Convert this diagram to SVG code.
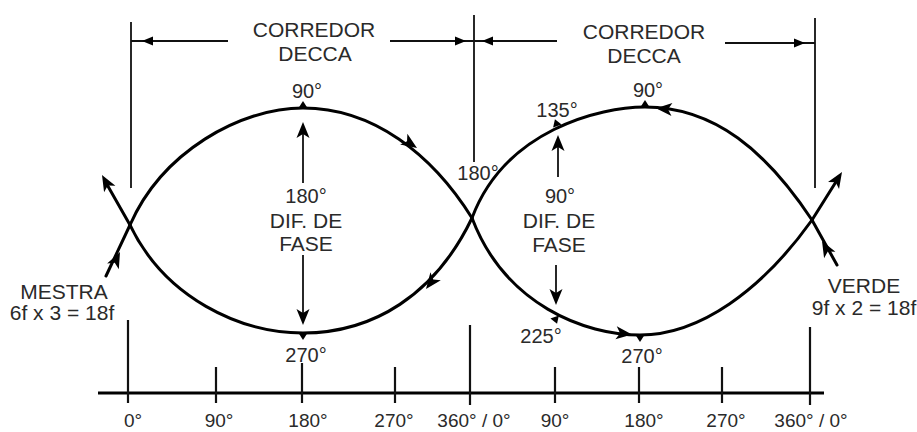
<svg xmlns="http://www.w3.org/2000/svg" xmlns:xlink="http://www.w3.org/1999/xlink" width="917" height="432" viewBox="0 0 917 432">
<style>
.curve{fill:none;stroke:#000;stroke-width:3;stroke-linecap:round}
.dim{fill:none;stroke:#111;stroke-width:1.8}
.axis{fill:none;stroke:#000;stroke-width:3.2}
.tick{fill:none;stroke:#111;stroke-width:2.2}
.arr{fill:none;stroke:#111;stroke-width:1.8}
text{font-family:"Liberation Sans",Arial,sans-serif;fill:#2a2a2a;text-anchor:middle}
.w{font-size:21px}
.n{font-size:20px}
.a{font-size:19px}
.head{fill:#000}
</style>
<defs>
<path id="ah" d="M0,0 L-16,-6.5 L-12,0 L-16,6.5 Z"/>
<path id="ahs" d="M0,0 L-11,-4.5 L-11,4.5 Z"/>
<path id="mk" d="M0,-6 L4.5,1 L-4.5,1 Z"/>
</defs>
<rect width="917" height="432" fill="#fff"/>

<g id="connectors">
<!-- left lobe -->
<path class="curve" d="M130,225 C162,152 240,108 303,108 C373,108 432,154 472,218"/>
<path class="curve" d="M130,225 C165,298 240,333 303,333 C373,333 435,295 472,218"/>
<!-- right lobe -->
<path class="curve" d="M472,218 C505,130 600,107 645,107 C715,107 767,152 812,220"/>
<path class="curve" d="M472,218 C505,305 585,335 640,335 C700,335 762,290 812,220"/>
<!-- external continuations -->
<path class="curve" d="M130,225 L105,181"/>
<path class="curve" d="M130,225 L106,276"/>
<path class="curve" d="M812,220 L839,177"/>
<path class="curve" d="M812,220 L837,265"/>
<g class="head">
<use xlink:href="#ah" transform="translate(102,175) rotate(-119)"/>
<use xlink:href="#ah" transform="translate(120,252) rotate(-64)"/>
<use xlink:href="#ah" transform="translate(842,172) rotate(-58)"/>
<use xlink:href="#ah" transform="translate(822,241) rotate(-119)"/>
<!-- curve flow arrows -->
<use xlink:href="#ah" transform="translate(417,148) rotate(34)"/>
<use xlink:href="#ah" transform="translate(426,289) rotate(127)"/>
<use xlink:href="#ah" transform="translate(656,108.3) rotate(184)"/>
<use xlink:href="#ah" transform="translate(632,334.5) rotate(6)"/>
<!-- point markers -->
<use xlink:href="#mk" transform="translate(303,107)"/>
<use xlink:href="#mk" transform="translate(303,334) rotate(180)"/>
<use xlink:href="#mk" transform="translate(557,125) rotate(-20)"/>
<use xlink:href="#mk" transform="translate(555,318) rotate(160)"/>
<use xlink:href="#mk" transform="translate(645,106)"/>
<use xlink:href="#mk" transform="translate(640,336) rotate(180)"/>
</g>
<!-- phase difference arrows -->
<path class="arr" d="M303,183 L303,128"/>
<path class="arr" d="M303,255 L303,318"/>
<path class="arr" d="M558,177 L558,142"/>
<path class="arr" d="M556,265 L556,298"/>
<g class="head">
<use xlink:href="#ah" transform="translate(303,122) rotate(-90)"/>
<use xlink:href="#ah" transform="translate(303,325) rotate(90)"/>
<use xlink:href="#ah" transform="translate(558,135) rotate(-90)"/>
<use xlink:href="#ah" transform="translate(556,305) rotate(90)"/>
</g>
<!-- corridor dimension lines -->
<path class="dim" d="M131,22 L131,188"/>
<path class="dim" d="M474,15 L474,162"/>
<path class="dim" d="M815,18 L815,188"/>
<path class="dim" d="M131,41 L228,41"/>
<path class="dim" d="M390,41 L557,41"/>
<path class="dim" d="M725,43 L815,43"/>
<g class="head">
<use xlink:href="#ahs" transform="translate(142,41) rotate(180)"/>
<use xlink:href="#ahs" transform="translate(466,41)"/>
<use xlink:href="#ahs" transform="translate(482,41) rotate(180)"/>
<use xlink:href="#ahs" transform="translate(805,43)"/>
</g>
<!-- phase axis -->
<path class="axis" d="M98,393 L824,393"/>
<path class="tick" d="M128,320 L128,403 M216,367 L216,403 M302,363 L302,403 M395,367 L395,403 M470,325 L470,405 M555,367 L555,403 M639,367 L639,403 M722,367 L722,403 M810,327 L810,405"/>
</g>

<g id="corredor-left">
<text class="w" x="314" y="37">CORREDOR</text>
<text class="w" x="315" y="61">DECCA</text>
</g>
<g id="corredor-right">
<text class="w" x="644" y="39">CORREDOR</text>
<text class="w" x="644" y="63">DECCA</text>
</g>
<g id="lobe-left">
<text class="n" x="307" y="98">90°</text>
<text class="n" x="306" y="203">180°</text>
<text class="w" x="306" y="228">DIF. DE</text>
<text class="w" x="306" y="251">FASE</text>
<text class="n" x="306" y="362">270°</text>
</g>
<g id="lobe-right">
<text class="n" x="557" y="117">135°</text>
<text class="n" x="648" y="97">90°</text>
<text class="n" x="478" y="180">180°</text>
<text class="n" x="560" y="203">90°</text>
<text class="w" x="559" y="228">DIF. DE</text>
<text class="w" x="559" y="252">FASE</text>
<text class="n" x="541" y="343">225°</text>
<text class="n" x="642" y="363">270°</text>
</g>
<g id="mestra">
<text class="w" x="64" y="299">MESTRA</text>
<text class="w" x="62" y="320">6f x 3 = 18f</text>
</g>
<g id="verde">
<text class="w" x="864" y="293">VERDE</text>
<text class="w" x="864" y="315">9f x 2 = 18f</text>
</g>
<g id="axis-labels">
<text class="a" x="133" y="427">0°</text>
<text class="a" x="219" y="427">90°</text>
<text class="a" x="308" y="427">180°</text>
<text class="a" x="394" y="427">270°</text>
<text class="a" x="474" y="427">360° / 0°</text>
<text class="a" x="555" y="427">90°</text>
<text class="a" x="644" y="427">180°</text>
<text class="a" x="726" y="427">270°</text>
<text class="a" x="811" y="427">360° / 0°</text>
</g>
</svg>
